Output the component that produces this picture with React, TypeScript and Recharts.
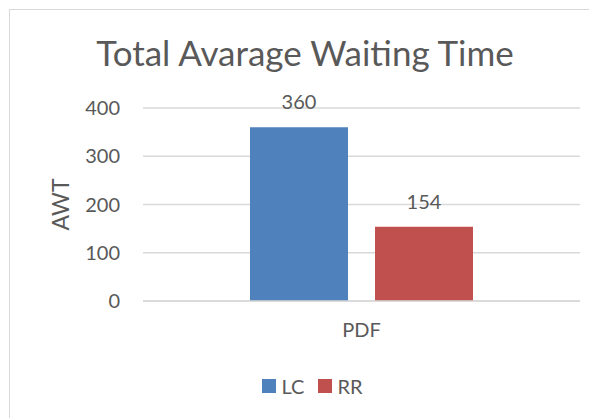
import { BarChart, Bar, XAxis, YAxis, CartesianGrid, Legend, LabelList } from "recharts";

const categories = ["PDF"];
const lcValues = [360];
const rrValues = [154];
const yTicks = [0, 100, 200, 300, 400];

const data = categories.map((c, i) => ({ name: c, LC: lcValues[i], RR: rrValues[i] }));

const FONT = "Lato, 'Open Sans', sans-serif";
const TEXT = "#595959";
const SERIES = [
  { key: "LC", color: "#4f81bd" },
  { key: "RR", color: "#c0504d" },
];

function LegendBox() {
  return (
    <div
      style={{
        height: 30,
        display: "flex",
        alignItems: "center",
        justifyContent: "center",
        paddingLeft: 49,
        fontSize: 20,
        color: TEXT,
        fontFamily: FONT,
      }}
    >
      {SERIES.map((s) => (
        <span key={s.key} style={{ display: "flex", alignItems: "center", marginRight: 14 }}>
          <span style={{ width: 14, height: 14, background: s.color, marginRight: 5 }} />
          {s.key}
        </span>
      ))}
    </div>
  );
}

export default function App() {
  return (
    <div
      style={{
        position: "relative",
        width: 588,
        height: 409,
        marginLeft: 1,
        marginTop: 1,
        borderTop: "1px solid #d9d9d9",
        borderLeft: "1px solid #d9d9d9",
        fontFamily: FONT,
      }}
    >
      <div
        style={{
          position: "absolute",
          left: 0,
          width: 590,
          top: 22,
          textAlign: "center",
          fontSize: 35,
          color: TEXT,
          lineHeight: "40px",
        }}
      >
        Total Avarage Waiting Time
      </div>
      <BarChart
        width={587}
        height={408}
        data={data}
        margin={{ top: 98, right: 17, left: 0, bottom: 17 }}
        barSize={98}
        barGap={27}
      >
        <CartesianGrid stroke="#d9d9d9" strokeWidth={1.5} vertical={false} />
        <XAxis
          dataKey="name"
          axisLine={{ stroke: "#d9d9d9", strokeWidth: 1.5 }}
          tickLine={false}
          tickMargin={16}
          height={70}
          tick={{ fontSize: 20, fill: TEXT, fontFamily: FONT }}
        />
        <YAxis
          width={133}
          domain={[0, 400]}
          ticks={yTicks}
          axisLine={false}
          tickLine={false}
          tickMargin={17}
          tick={{ fontSize: 20, fill: TEXT, fontFamily: FONT }}
          label={{
            content: ({ viewBox }: any) => {
              const cx = viewBox.x + 50;
              const cy = viewBox.y + viewBox.height / 2;
              return (
                <text
                  x={cx}
                  y={cy}
                  transform={`rotate(-90 ${cx} ${cy})`}
                  textAnchor="middle"
                  dominantBaseline="central"
                  fontSize={23}
                  fill={TEXT}
                  fontFamily={FONT}
                >
                  AWT
                </text>
              );
            },
          }}
        />
        <Legend verticalAlign="bottom" content={() => <LegendBox />} />
        {SERIES.map((s) => (
          <Bar key={s.key} dataKey={s.key} fill={s.color} isAnimationActive={false}>
            <LabelList dataKey={s.key} position="top" offset={18} fill={TEXT} fontSize={20} fontFamily={FONT} />
          </Bar>
        ))}
      </BarChart>
    </div>
  );
}
